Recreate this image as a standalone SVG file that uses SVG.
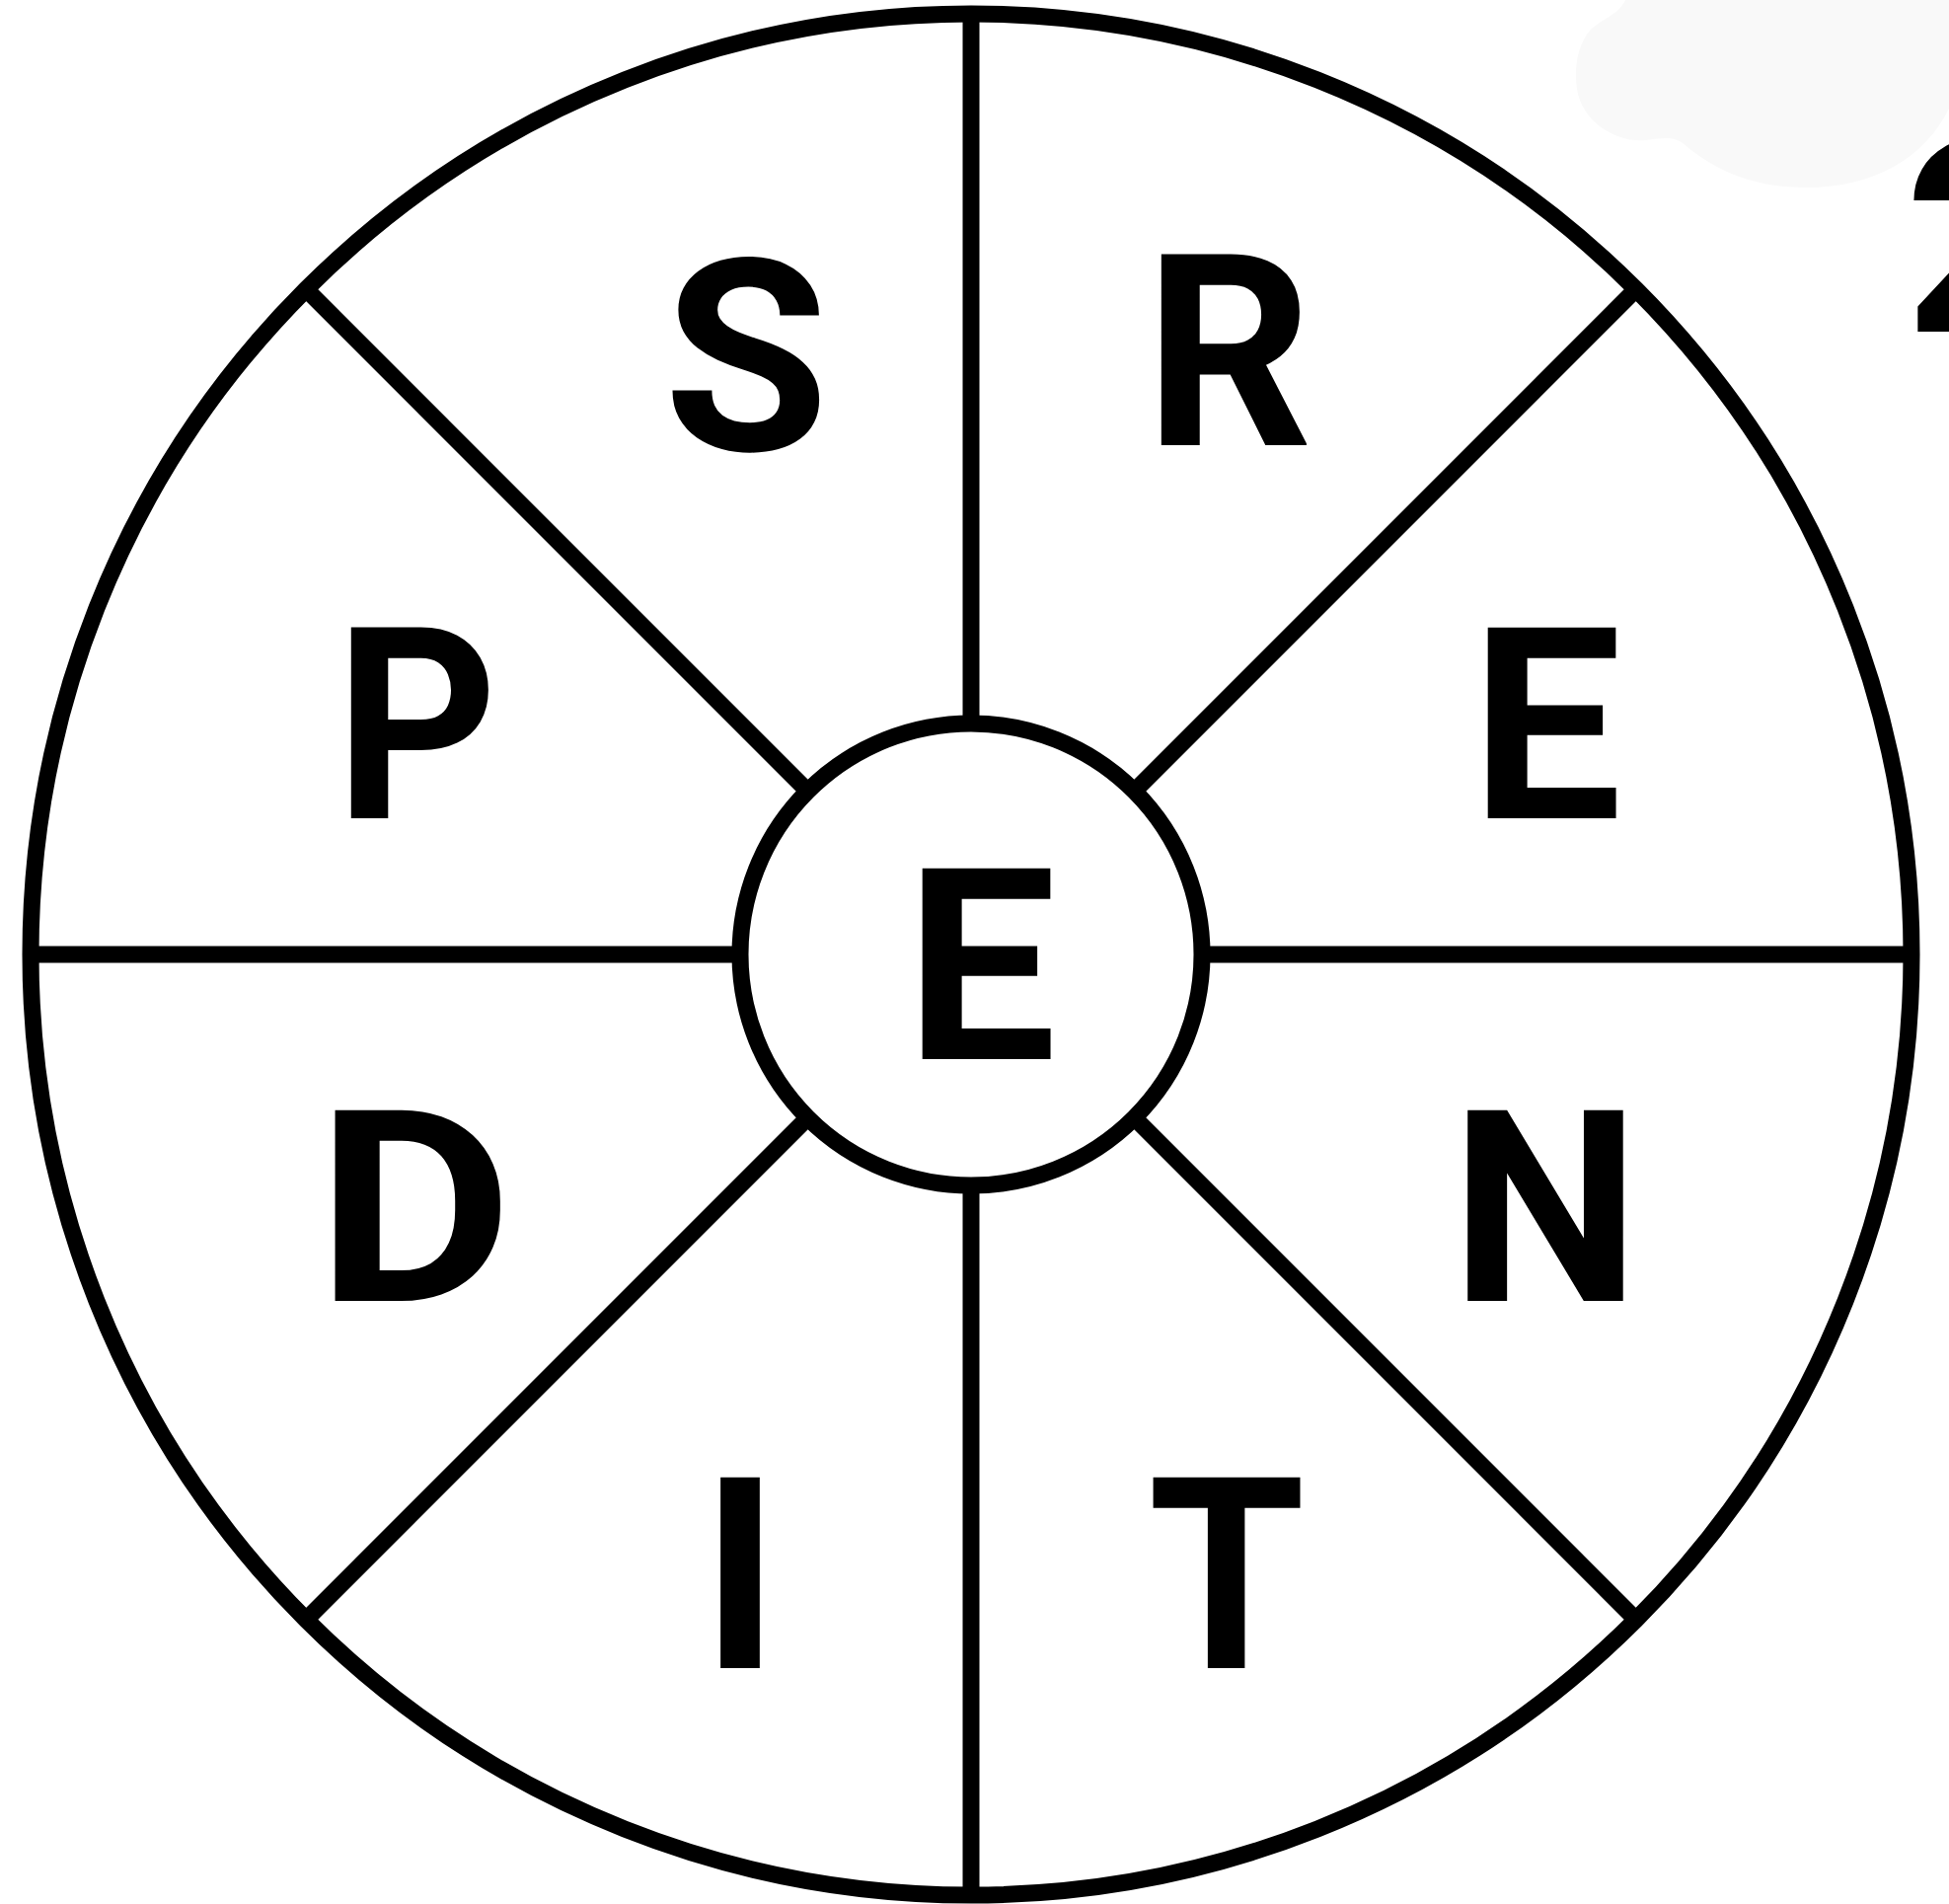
<svg xmlns="http://www.w3.org/2000/svg" width="1975" height="1929" viewBox="0 0 1975 1929">
<style>
.ln{stroke:#000;stroke-width:17;fill:none}
.lt{font-family:Roboto,"Liberation Sans",sans-serif;font-weight:bold;font-size:272px;fill:#000;text-anchor:middle}
</style>
<rect width="1975" height="1929" fill="#fff"/>
<path d="M1647,0 C1640,15 1625,18 1612,30 C1598,45 1595,70 1598,90 C1603,125 1640,145 1668,142 C1685,140 1695,138 1705,145 C1740,175 1780,190 1830,190 C1900,190 1950,160 1975,110 L1975,0 Z" fill="#f9f9f9"/>
<g id="wheel">
<circle class="ln" cx="984" cy="967" r="953"/>
<circle class="ln" cx="984" cy="967" r="234"/>
</g>
<g id="connectors">
<line class="ln" x1="984" y1="733" x2="984" y2="14"/>
<line class="ln" x1="984" y1="1201" x2="984" y2="1920"/>
<line class="ln" x1="750" y1="967" x2="31" y2="967"/>
<line class="ln" x1="1218" y1="967" x2="1937" y2="967"/>
<line class="ln" x1="1149.5" y1="801.5" x2="1657.9" y2="293.1"/>
<line class="ln" x1="818.5" y1="801.5" x2="310.1" y2="293.1"/>
<line class="ln" x1="1149.5" y1="1132.5" x2="1657.9" y2="1640.9"/>
<line class="ln" x1="818.5" y1="1132.5" x2="310.1" y2="1640.9"/>
</g>
<g id="letter-S"><text class="lt" x="756" y="456">S</text></g>
<g id="letter-R"><text class="lt" transform="translate(1245,0) scale(0.975,1)" x="0" y="451">R</text></g>
<g id="letter-P"><text class="lt" transform="translate(422,0) scale(0.94,1)" x="0" y="829">P</text></g>
<g id="letter-E1"><text class="lt" x="1567" y="829">E</text></g>
<g id="letter-E-center"><text class="lt" x="994" y="1073">E</text></g>
<g id="letter-D"><text class="lt" transform="translate(420,0) scale(1.13,1)" x="0" y="1318">D</text></g>
<g id="letter-N"><text class="lt" x="1566" y="1318">N</text></g>
<g id="letter-I"><text class="lt" x="750" y="1690">I</text></g>
<g id="letter-T"><text class="lt" transform="translate(1243,0) scale(0.944,1)" x="0" y="1690">T</text></g>
<g id="partial-2"><text class="lt" style="text-anchor:start" x="1930" y="336">2</text></g>
</svg>
